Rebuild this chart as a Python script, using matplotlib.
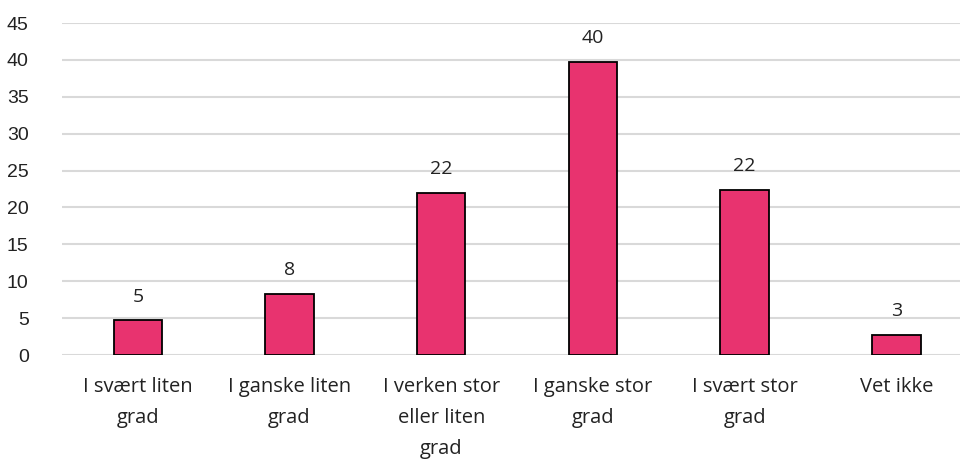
import numpy as np
import matplotlib.pyplot as plt

categories = ["I svært liten\ngrad", "I ganske liten\ngrad", "I verken stor\neller liten\ngrad",
              "I ganske stor\ngrad", "I svært stor\ngrad", "Vet ikke"]
values = [4.7, 8.3, 22.0, 39.7, 22.4, 2.7]
labels = ["5", "8", "22", "40", "22", "3"]

fig = plt.figure(figsize=(9.6, 4.65), dpi=100)
ax = fig.add_axes([62 / 960, 110 / 465, 1 - 62 / 960, 332 / 465])

x = np.arange(len(categories))
ax.bar(x, values, width=0.32, color="#E8336F", edgecolor="black", linewidth=1.3, zorder=3)
for xi, v, lab in zip(x, values, labels):
    ax.text(xi, v + 2.0, lab, ha="center", va="bottom", fontsize=14, family="Open Sans", color="#222222")

ax.set_ylim(0, 45)
ax.set_xlim(-0.5, 5.42)
ax.set_yticks(range(0, 46, 5))
ax.yaxis.grid(True, color="#d9d9d9", linewidth=1.5, zorder=0)
ax.set_axisbelow(True)
for s in ax.spines.values():
    s.set_visible(False)
ax.tick_params(axis="both", length=0, colors="#222222")
ax.tick_params(axis="y", pad=24, labelsize=14)
ax.set_xticks(x)
ax.set_xticklabels(categories, family="Open Sans", fontsize=14.5, linespacing=1.72, va="top")
ax.tick_params(axis="x", pad=16)
for t in ax.get_yticklabels():
    t.set_family("Liberation Sans")

fig.savefig("out.png", dpi=100)
